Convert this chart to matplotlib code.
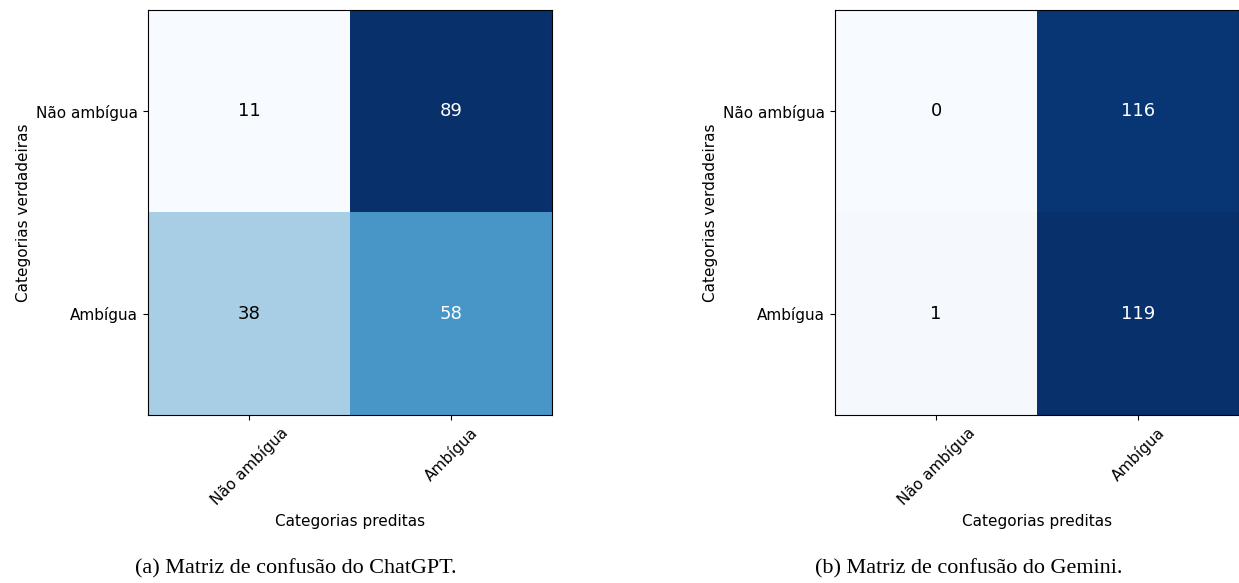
import numpy as np
import matplotlib.pyplot as plt

plt.rcParams["font.family"] = ["DejaVu Sans"]

labels = ["Não ambígua", "Ambígua"]
cm_chatgpt = np.array([[11, 89], [38, 58]])
cm_gemini = np.array([[0, 116], [1, 119]])
captions = ["(a) Matriz de confusão do ChatGPT.", "(b) Matriz de confusão do Gemini."]


def draw_cm(ax, cm):
    ax.imshow(cm, cmap="Blues", interpolation="nearest", aspect="auto")
    thresh = cm.max() / 2.0
    for i in range(cm.shape[0]):
        for j in range(cm.shape[1]):
            color = "white" if cm[i, j] > thresh else "black"
            ax.text(j, i, str(cm[i, j]), ha="center", va="center",
                    color=color, fontsize=13)
    ax.set_xticks(range(len(labels)))
    ax.set_yticks(range(len(labels)))
    ax.set_xticklabels(labels, rotation=45, fontsize=11)
    ax.set_yticklabels(labels, fontsize=11)
    ax.set_xlabel("Categorias preditas", fontsize=11)
    ax.set_ylabel("Categorias verdadeiras", fontsize=11)


fig = plt.figure(figsize=(12.39, 5.83), dpi=100)
ax1 = fig.add_axes([148 / 1239, 168 / 583, 404 / 1239, 405 / 583])
ax2 = fig.add_axes([835 / 1239, 168 / 583, 404 / 1239, 405 / 583])

draw_cm(ax1, cm_chatgpt)
draw_cm(ax2, cm_gemini)

fig.text(296 / 1239, 1 - 569 / 583, captions[0], ha="center", va="center",
         family="Liberation Serif", fontsize=15.9)
fig.text(969 / 1239, 1 - 569 / 583, captions[1], ha="center", va="center",
         family="Liberation Serif", fontsize=15.9)

fig.savefig("out.png", dpi=100)
